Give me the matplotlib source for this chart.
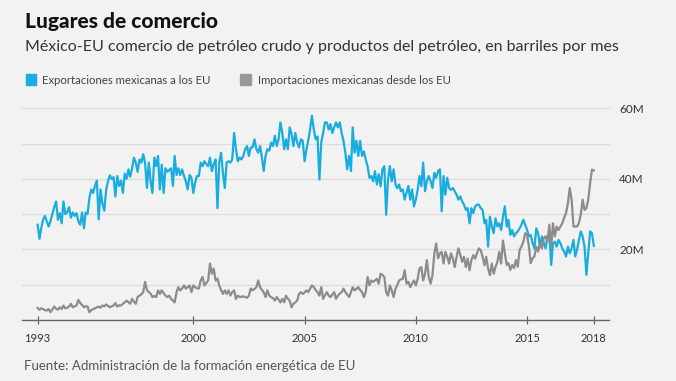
import pandas as pd
import matplotlib.pyplot as plt
from matplotlib.patches import Rectangle

plt.rcParams['font.family'] = ['Lato', 'DejaVu Sans']

# meses de enero 1993 a enero 2018
meses = pd.date_range('1993-01-01', periods=301, freq='MS')

# millones de barriles por mes
exportaciones = [
    27, 23, 26, 28.4, 29.5, 28, 26.5, 28, 30, 32,
    33.6, 28.4, 30.3, 27.4, 33.6, 30, 30.5, 32, 29, 30.5,
    29.5, 30.3, 28, 27, 30.5, 26, 30.5, 30, 34.6, 37,
    36, 38, 39.5, 28.5, 37, 33, 31, 37, 39.3, 41,
    40, 40.5, 35, 40.8, 38, 39.5, 36, 41.5, 40, 42.7,
    40.6, 43, 46, 44.6, 42, 45.5, 44.6, 47, 44.5, 37.4,
    44.6, 39, 36, 46, 43.6, 46.5, 37, 44, 36, 43,
    42, 42.5, 43, 38, 46.5, 41.1, 43, 41.1, 42.7, 40.8,
    39.3, 37, 41.1, 40.3, 36, 39, 40.8, 40.8, 44.6, 43.6,
    45, 44.2, 43.6, 46, 42.2, 44.2, 45.5, 31.7, 44.6, 47.4,
    41.7, 37.4, 44.6, 45, 44.6, 45.5, 53, 48.4, 45, 46,
    45.5, 46.5, 48.4, 49.3, 46.5, 48.9, 48.9, 51.2, 48.4, 47.4,
    49.3, 46, 42.2, 46.5, 48.4, 48, 50.3, 49.3, 52.2, 49.3,
    51.2, 56, 53, 48.4, 51.2, 48.4, 54.6, 52.7, 49.3, 53,
    50.3, 48.9, 51.2, 50.8, 45, 48.4, 50.8, 54, 57.9, 54,
    51.2, 52, 39.8, 50.3, 53, 56, 56, 54, 55.5, 53,
    54.6, 56, 54.6, 56, 53, 50.8, 47.4, 42.7, 46.5, 42.2,
    54.6, 47.4, 50.8, 46.5, 50.8, 46.5, 47.8, 45.5, 43.6, 40.3,
    40.8, 39.3, 42.2, 38.4, 41.3, 37.9, 42.7, 43.6, 29.8, 39.8,
    43.6, 39.3, 42.7, 38.4, 37.4, 38.4, 36.5, 37, 34.1, 36,
    38, 34.1, 37, 32.2, 34.1, 37, 40.8, 37.9, 44.6, 36.5,
    39.3, 40.8, 39.3, 37.4, 41.7, 40.3, 42.2, 42.7, 30.8, 40.8,
    35.5, 40.3, 37.4, 36.9, 37.4, 36.5, 35.5, 34.1, 35, 33.6,
    32.7, 31.2, 31.7, 27.4, 31.7, 30.3, 32.2, 32.7, 32.7, 31.7,
    31.2, 27.4, 28.4, 20.8, 29.3, 26.5, 24.6, 28.8, 26.5, 27.4,
    25.5, 29.3, 32.2, 26.5, 28.4, 24.1, 25.5, 23.7, 24.6, 25.1,
    26, 27, 28.4, 27, 25.5, 23.7, 24.1, 21.8, 20.3, 26,
    24.6, 20.8, 23.7, 21.8, 20.3, 23.7, 24.6, 15.6, 21.8, 22.2,
    20.8, 22.7, 21.8, 20.3, 19.4, 18, 20.8, 18.9, 20.3, 22.7,
    18, 19.9, 22.7, 25.1, 23.7, 20.8, 12.8, 18.9, 25.1, 24.6,
    21,
]

importaciones = [
    3.4, 2.9, 3.3, 3.1, 2.8, 2.7, 3.1, 2.2, 3, 3.8,
    3.2, 2.9, 3.6, 3.1, 4.1, 3.3, 3.5, 3.8, 4.6, 3.6,
    3.9, 4.1, 5.7, 4.8, 4.3, 3.6, 3.9, 3.8, 2.2, 2.8,
    3.1, 3.3, 3.6, 3.8, 3.5, 4.1, 3.9, 4.4, 4, 3.6,
    3.9, 4.1, 4.8, 3.8, 4.2, 4.1, 4.6, 5, 5.5, 5,
    4.6, 6, 5.2, 4.6, 6.5, 6.9, 7.3, 7.9, 10.8, 8.5,
    7.9, 7.4, 6.5, 6.8, 6.5, 8.4, 7.4, 8.4, 7.6, 6.9,
    6.5, 6.9, 6, 5.5, 5, 7.9, 9.3, 8.4, 8.9, 9.8,
    8.9, 9.3, 9.8, 7.9, 9.8, 9.3, 9, 8.9, 11.2, 12.2,
    9.8, 10.5, 11.2, 16, 13.1, 14.6, 11.2, 11.7, 9.8, 8.5,
    7.4, 8.4, 7.4, 8.4, 6.9, 7.9, 8.4, 6, 6.9, 6.5,
    6.6, 6.7, 6.5, 6.3, 6.9, 8.9, 8.4, 8.8, 9.3, 11.2,
    9.3, 8.5, 7.9, 6.5, 8.4, 6.9, 6.5, 6.2, 5.5, 6.5,
    5.8, 5, 6, 5, 6.9, 6, 5.5, 3.6, 4.6, 5,
    5.5, 7.4, 7.9, 7.4, 7.8, 8.4, 7.9, 8.9, 9.8, 9.3,
    8.5, 7.9, 6.9, 9.3, 6, 7, 7.9, 6.9, 6.5, 7.2,
    7.9, 6, 6.9, 7.5, 7.9, 8.9, 7.9, 7.2, 6.5, 7.9,
    9.3, 8.4, 8.8, 9.3, 8.5, 7.9, 6.5, 7.9, 12.2, 9.8,
    11.2, 10.8, 11.2, 11.7, 10.3, 13.1, 12.8, 12.2, 7.9, 6.9,
    9.8, 8.4, 6.5, 8.9, 9.8, 11.2, 11.5, 11.7, 14.1, 10.3,
    10.8, 9.3, 10.3, 11.2, 9.8, 11.7, 14.6, 15, 11.2, 13.1,
    17, 12.2, 10.3, 12.7, 18.9, 21.7, 17.5, 18.9, 19.3, 16,
    19.3, 17.9, 16, 18.9, 17.4, 15, 17.9, 20.3, 18.4, 16.5,
    17.9, 15, 17.4, 14.1, 17, 18.4, 17.4, 18.9, 20.3, 19.8,
    17.9, 15.5, 17.9, 14.6, 12.7, 16, 13.1, 15, 16.5, 19.3,
    16, 22.5, 18.9, 15.6, 16.1, 14.2, 15.6, 14.7, 17, 15.1,
    19.9, 20.8, 22.2, 24.6, 24.1, 20.8, 16.1, 17.5, 18, 20.8,
    19.4, 21.8, 20.3, 23.2, 23.7, 22.2, 27, 20.8, 27.4, 23.7,
    26.5, 25.5, 26.5, 27.4, 29, 30.3, 33.1, 37.4, 34.1, 26.5,
    26.5, 26.5, 27.5, 30, 34.1, 31.2, 31.7, 34.1, 38.8, 42.6,
    42.4,
]

anios = [1993, 2000, 2005, 2010, 2015, 2018]
niveles = [0, 10, 20, 30, 40, 50, 60]
etiquetas_y = ['', '', '20M', '', '40M', '', '60M']

azul = '#19acdf'
gris = '#8c8c8c'
fondo = '#f2f2f2'

fig = plt.figure(figsize=(6.76, 3.81), dpi=100)
fig.patch.set_facecolor(fondo)

ax = fig.add_axes([22 / 676, 1 - 320 / 381, 587.5 / 676, 211.7 / 381])
ax.set_facecolor(fondo)
ax.plot(meses, exportaciones, color=azul, lw=1.6, solid_joinstyle='round')
ax.plot(meses, importaciones, color=gris, lw=1.6, solid_joinstyle='round')

ax.set_xlim(pd.Timestamp('1992-04-20'), pd.Timestamp('2018-09-15'))
ax.set_ylim(0, 60)
ax.set_xticks([pd.Timestamp(f'{a}-01-01') for a in anios])
ax.set_xticklabels([str(a) for a in anios])
ax.set_yticks(niveles)
ax.set_yticklabels(etiquetas_y)
ax.yaxis.tick_right()
ax.grid(axis='y', color='#dcdcdc', lw=0.9)
ax.set_axisbelow(True)
for s in ['top', 'left', 'right']:
    ax.spines[s].set_visible(False)
ax.spines['bottom'].set_color('#666666')
ax.spines['bottom'].set_linewidth(1)
ax.tick_params(axis='x', direction='inout', length=6, width=0.9, color='#666666',
               labelsize=8, labelcolor='#333333', pad=6)
ax.tick_params(axis='y', length=0, labelsize=8.5, labelcolor='#333333', pad=7)

# titulos
fig.text(25 / 676, 1 - 28 / 381, 'Lugares de comercio', fontsize=15, fontweight='black',
         color='#111111', va='baseline')
fig.text(25 / 676, 1 - 51 / 381,
         'México-EU comercio de petróleo crudo y productos del petróleo, en barriles por mes',
         fontsize=11.5, fontweight='normal', color='#333333', va='baseline')

# leyenda
fig.patches.append(Rectangle((26 / 676, 1 - 85 / 381), 9.5 / 676, 11 / 381,
                             transform=fig.transFigure, color=azul))
fig.text(42 / 676, 1 - 83.5 / 381, 'Exportaciones mexicanas a los EU', fontsize=8.2,
         color='#444444', va='baseline')
fig.patches.append(Rectangle((240 / 676, 1 - 85 / 381), 10.5 / 676, 11 / 381,
                             transform=fig.transFigure, color='#999999'))
fig.text(258 / 676, 1 - 83.5 / 381, 'Importaciones mexicanas desde los EU', fontsize=8.2,
         color='#444444', va='baseline')

fig.text(24 / 676, 1 - 369.5 / 381, 'Fuente: Administración de la formación energética de EU',
         fontsize=9.5, fontweight='normal', color='#555555', va='baseline')

fig.savefig('out.png', dpi=100, facecolor=fondo)
